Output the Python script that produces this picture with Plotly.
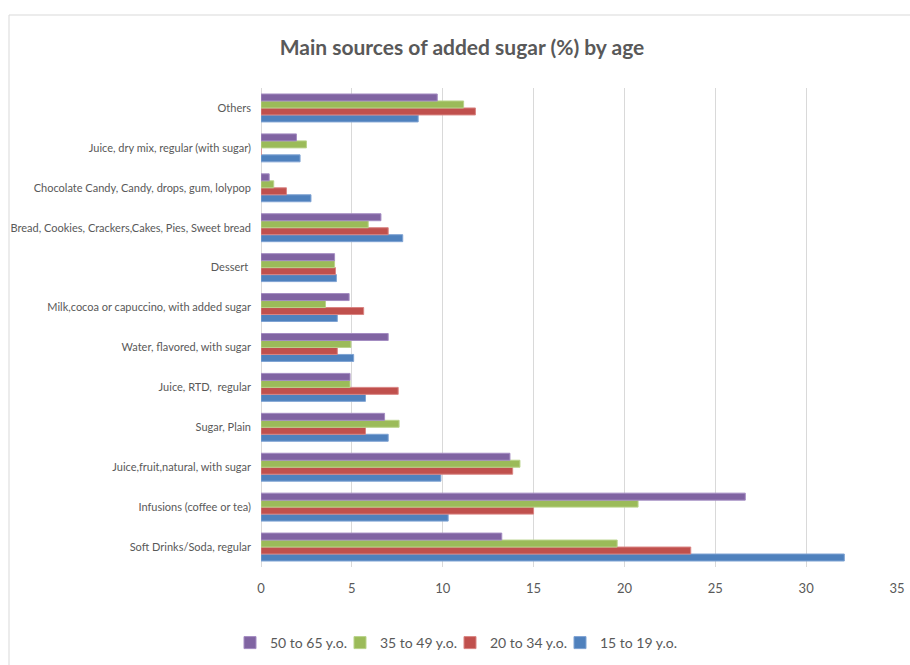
import plotly.graph_objects as go

categories = [
    "Soft Drinks/Soda, regular",
    "Infusions (coffee or tea)",
    "Juice,fruit,natural, with sugar",
    "Sugar, Plain",
    "Juice, RTD,  regular",
    "Water, flavored, with sugar",
    "Milk,cocoa or capuccino, with added sugar",
    "Dessert ",
    "Bread, Cookies, Crackers,Cakes, Pies, Sweet bread",
    "Chocolate Candy, Candy, drops, gum, lolypop",
    "Juice, dry mix, regular (with sugar)",
    "Others",
]

age_15_19 = [32.1, 10.3, 9.9, 7.0, 5.75, 5.1, 4.2, 4.15, 7.8, 2.75, 2.15, 8.65]
age_20_34 = [23.65, 15.0, 13.85, 5.75, 7.55, 4.2, 5.65, 4.1, 7.0, 1.4, 0, 11.8]
age_35_49 = [19.6, 20.75, 14.25, 7.6, 4.9, 4.95, 3.55, 4.05, 5.9, 0.7, 2.5, 11.15]
age_50_65 = [13.25, 26.65, 13.7, 6.8, 4.9, 7.0, 4.85, 4.05, 6.6, 0.45, 1.95, 9.7]

series_names = ["15 to 19 y.o.", "20 to 34 y.o.", "35 to 49 y.o.", "50 to 65 y.o."]
series_values = [age_15_19, age_20_34, age_35_49, age_50_65]
colors = ["#4F81BD", "#C0504D", "#9BBB59", "#8064A2"]
edges = ["#7FA3D3", "#D98583", "#B9D38A", "#A48CC2"]

x_ticks = [0, 5, 10, 15, 20, 25, 30, 35]

FONT = "Lato, Open Sans, sans-serif"
GRAY = "#595959"

W, H = 910, 665
L, R, T, B = 261, 13, 88, 98
pw, ph = W - L - R, H - T - B

def px2paper_x(px):
    return (px - L) / pw

def px2paper_y(py):
    return (H - B - py) / ph

# legend entry left edges (pixels), in series order (blue, red, green, purple)
legend_left_px = [560, 450, 340, 230]
legend_ids = ["legend", "legend2", "legend3", "legend4"]

fig = go.Figure()
for name, vals, c, e, lid in zip(series_names, series_values, colors, edges, legend_ids):
    fig.add_trace(go.Bar(
        y=categories, x=vals, name=name, orientation="h", legend=lid,
        showlegend=True,
        marker=dict(color=c, line=dict(color=e, width=1)),
    ))

fig.add_shape(type="rect", xref="paper", yref="paper",
              x0=px2paper_x(9), x1=px2paper_x(915),
              y0=px2paper_y(670), y1=px2paper_y(15),
              line=dict(color="#D9D9D9", width=1), fillcolor="rgba(0,0,0,0)",
              layer="below")

legend_layout = {}
for lid, lx in zip(legend_ids, legend_left_px):
    legend_layout[lid] = dict(
        orientation="h", x=px2paper_x(lx), xanchor="left",
        y=px2paper_y(643), yanchor="middle",
        font=dict(family=FONT, size=14, color=GRAY),
        itemwidth=30, bgcolor="rgba(0,0,0,0)",
    )

fig.update_layout(
    width=W, height=H,
    showlegend=True,
    margin=dict(l=L, r=R, t=T, b=B, autoexpand=False),
    paper_bgcolor="white", plot_bgcolor="white",
    barmode="group", bargap=0.3, bargroupgap=0.0,
    title=dict(text="<b>Main sources of added sugar (%) by age</b>",
               x=px2paper_x(462), xref="paper", xanchor="center",
               y=1 - 48 / H, yanchor="middle",
               font=dict(family=FONT, size=21, color=GRAY)),
    font=dict(family=FONT, color=GRAY),
    xaxis=dict(range=[0, 35], tickvals=x_ticks, showgrid=True,
               gridcolor="#D9D9D9", gridwidth=1, zeroline=True,
               zerolinecolor="#D9D9D9", zerolinewidth=1, showline=False,
               ticks="", ticklabelstandoff=12, automargin=False,
               tickfont=dict(family=FONT, size=13, color=GRAY)),
    yaxis=dict(showgrid=False, zeroline=False, showline=False, ticks="",
               ticklabelstandoff=9, automargin=False,
               tickfont=dict(family=FONT, size=11, color=GRAY)),
    **legend_layout,
)

fig.write_html("out.html")
